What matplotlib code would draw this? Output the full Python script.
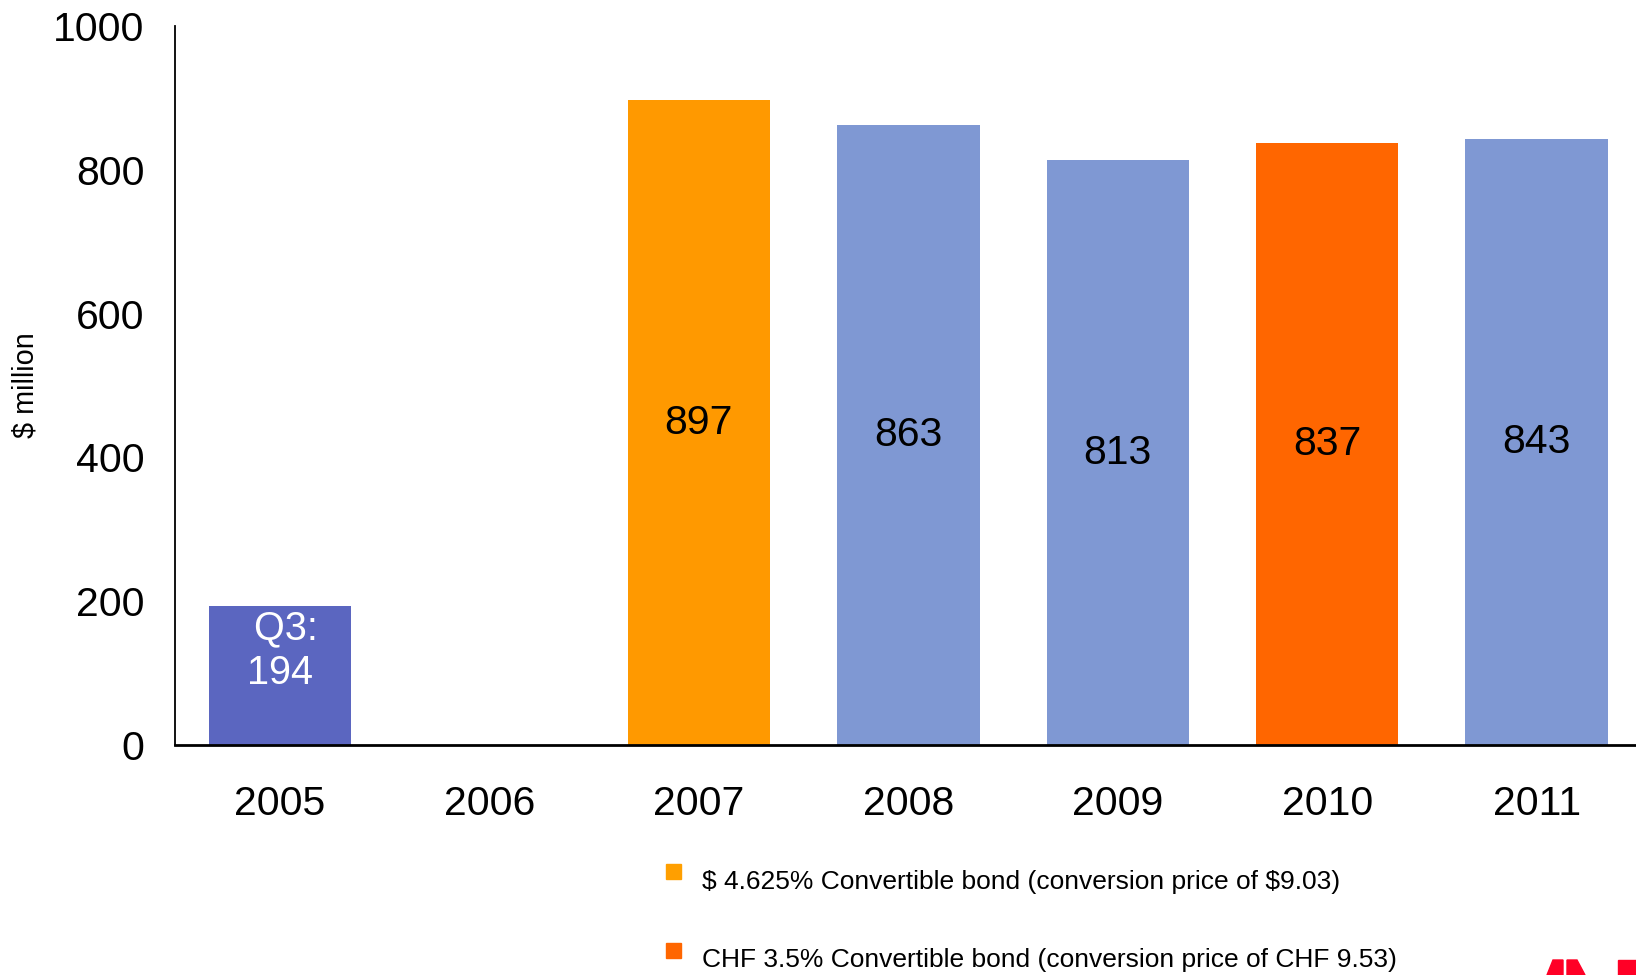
import numpy as np
import matplotlib.pyplot as plt
from matplotlib.patches import Rectangle, Polygon

plt.rcParams['font.family'] = ['Liberation Sans', 'DejaVu Sans']
plt.rcParams['text.parse_math'] = False

# --- Data ---
years = ['2005', '2006', '2007', '2008', '2009', '2010', '2011']
values = [194, np.nan, 897, 863, 813, 837, 843]
bar_labels = [' Q3:\n194', '', '897', '863', '813', '837', '843']
bar_colors = ['#5B66C0', '#7F98D3', '#FF9900', '#7F98D3', '#7F98D3', '#FF6600', '#7F98D3']
legend_labels = ['$ 4.625% Convertible bond (conversion price of $9.03)',
                 'CHF 3.5% Convertible bond (conversion price of CHF 9.53)']
legend_colors = ['#FF9F00', '#FF6600']

W, H = 1636, 975
fig = plt.figure(figsize=(W / 100, H / 100), dpi=100)
ax = fig.add_axes([175.3 / W, 1 - 745 / H, 1466 / W, 719 / H])

x = np.arange(len(years))
ax.bar(x, values, width=0.68, color=bar_colors, zorder=2)

# value labels centred in each bar (the 2005 one sits a bit higher)
for i, (v, lab) in enumerate(zip(values, bar_labels)):
    if not lab:
        continue
    if i == 0:
        ax.text(i, 131, lab, ha='center', va='center', fontsize=28.5,
                color='white', linespacing=1.2)
    else:
        ax.text(i, v / 2, lab, ha='center', va='center', fontsize=29.5, color='black')

ax.set_xlim(-0.5, 6.5)
ax.set_ylim(0, 1000)
ax.set_xticks(x)
ax.set_xticklabels(years, fontsize=29.5)
ax.set_yticks([0, 200, 400, 600, 800, 1000])
ax.set_yticklabels(['0', '200', '400', '600', '800', '1000'], fontsize=29.5)
ax.tick_params(axis='x', length=0, pad=29)
ax.tick_params(axis='y', length=0, pad=22)

for side in ['top', 'right']:
    ax.spines[side].set_visible(False)
ax.spines['left'].set_linewidth(1.3)
ax.spines['bottom'].set_linewidth(2.0)

fig.text(26 / W, 1 - 385 / H, '$ million', rotation=90, ha='center', va='center', fontsize=20.8)

# legend drawn by hand, like bullets under the chart
for j, (lab, col) in enumerate(zip(legend_labels, legend_colors)):
    sq_top = 864 + j * 79
    fig.patches.append(Rectangle((666 / W, 1 - (sq_top + 15) / H), 15 / W, 15 / H,
                                 transform=fig.transFigure, color=col))
    fig.text(702 / W, 1 - (882 + j * 78) / H, lab, ha='left', va='center', fontsize=19)

# cut-off red logo in the corner
red = '#FF0026'
logo = [
    [(1547, 975), (1553, 960), (1563, 960), (1563, 975)],
    [(1567, 960), (1577, 960), (1585, 975), (1567, 975)],
    [(1618, 960), (1636, 960), (1636, 975), (1618, 975)],
]
for pts in logo:
    fig.patches.append(Polygon([(px / W, 1 - py / H) for px, py in pts], closed=True,
                               transform=fig.transFigure, color=red))

fig.savefig('out.png', dpi=100)
